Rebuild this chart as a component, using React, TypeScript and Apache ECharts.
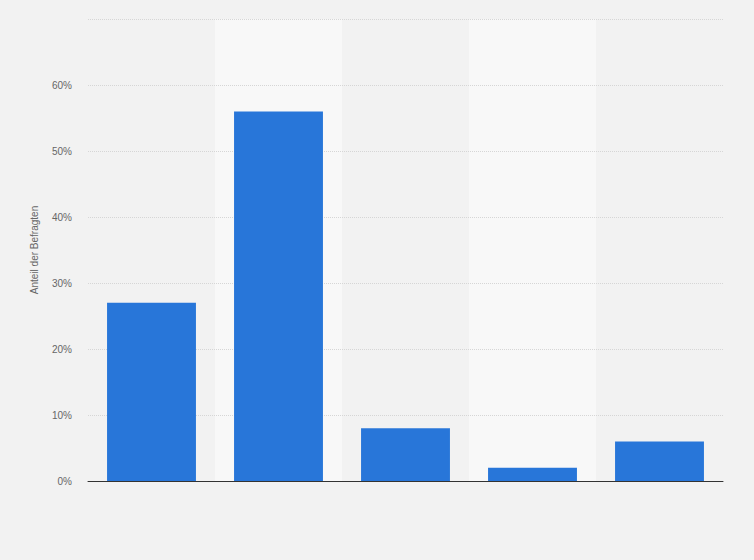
import { useEffect, useRef } from "react";
import * as echarts from "echarts";

const categories = ["Antwort 1", "Antwort 2", "Antwort 3", "Antwort 4", "Antwort 5"];
const shares = [27, 56, 8, 2, 6];
const yTicks = [0, 10, 20, 30, 40, 50, 60, 70];

export default function App() {
  const ref = useRef<HTMLDivElement | null>(null);

  useEffect(() => {
    document.body.style.margin = "0";
    if (!ref.current) return;
    const chart = echarts.init(ref.current, undefined, { renderer: "svg" });
    chart.setOption({
      animation: false,
      backgroundColor: "#f2f2f2",
      textStyle: { fontFamily: "Liberation Sans, Arial, sans-serif" },
      grid: { left: 88, right: 31, top: 19, bottom: 79 },
      xAxis: {
        type: "category",
        data: categories,
        z: 0,
        axisLine: { show: true, lineStyle: { color: "#333", width: 1 } },
        axisTick: { show: false },
        axisLabel: { show: false },
        splitArea: { show: true, interval: 0, areaStyle: { color: ["#f2f2f2", "#f8f8f8"] } },
      },
      yAxis: {
        type: "value",
        min: yTicks[0],
        max: yTicks[yTicks.length - 1],
        interval: 10,
        z: 1,
        name: "Anteil der Befragten",
        nameLocation: "middle",
        nameGap: 49,
        nameTextStyle: { color: "#666", fontSize: 10 },
        axisLine: { show: false },
        axisTick: { show: false },
        axisLabel: {
          color: "#666",
          fontSize: 10,
          margin: 16,
          formatter: (v: number) => (v === 70 ? "" : v + "%"),
        },
        splitLine: {
          show: true,
          showMinLine: false,
          lineStyle: { color: "#d6d6d6", type: "dotted", width: 1 },
        },
      },
      series: [
        {
          type: "bar",
          data: shares,
          barWidth: "70%",
          z: 3,
          itemStyle: { color: "#2876d9" },
        },
      ],
    });
    return () => chart.dispose();
  }, []);

  return <div ref={ref} style={{ width: 754, height: 560 }} />;
}
